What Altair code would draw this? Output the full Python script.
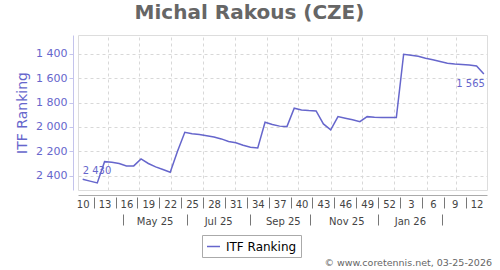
import altair as alt
import pandas as pd

TITLE = "Michal Rakous (CZE)"
SERIES = "ITF Ranking"
FOOTER = "\u00a9 www.coretennis.net, 03-25-2026"

# weekly ITF ranking, from week 10 of 2025 to week 13 of 2026
ranking = [2430, 2445, 2460, 2285, 2290, 2300, 2320, 2320, 2263, 2300,
           2328, 2350, 2372, 2200, 2044, 2055, 2062, 2072, 2082, 2098,
           2120, 2129, 2150, 2166, 2172, 1961, 1980, 1993, 1997, 1846,
           1860, 1865, 1868, 1975, 2024, 1915, 1928, 1940, 1956, 1915,
           1920, 1922, 1923, 1923, 1402, 1410, 1418, 1435, 1448, 1462,
           1476, 1482, 1486, 1490, 1499, 1565]
first_week_date = "2025-03-08"

y_ticks = [1400, 1600, 1800, 2000, 2200, 2400]
y_domain = [1244, 2518]
x_domain = ["2025-03-03T12:00", "2026-03-31T00:00"]
month_grid = ["2025-04-01", "2025-05-01", "2025-06-01", "2025-07-01",
              "2025-08-01", "2025-09-01", "2025-10-01", "2025-11-01",
              "2025-12-01", "2026-01-01", "2026-02-01", "2026-03-01"]
month_label_dates = ["2025-05-16", "2025-07-16", "2025-09-16",
                     "2025-11-16", "2026-01-16"]
month_sep_dates = ["2025-04-16", "2025-06-16", "2025-08-16",
                   "2025-10-12", "2025-12-16", "2026-02-16"]

LINE_COLOR = "#6666cc"
AXIS_BLUE = "#6666cc"
LAVENDER = "#c4c4ec"
GRID = "#d8d8d8"
FONT = "DejaVu Sans"


def ms(s):
    return int(pd.Timestamp(s, tz="UTC").value // 10**6)


dates = pd.date_range(first_week_date, periods=len(ranking), freq="7D", tz="UTC")
t_ms = [int(d.value // 10**6) for d in dates]
df = pd.DataFrame({"t": t_ms, "rank": ranking, "series": SERIES})

week_label_ms = t_ms[::3]
week_sep_ms = [(a + b) / 2 for a, b in zip(week_label_ms[:-1], week_label_ms[1:])]

W, H = 409, 155
xscale = alt.Scale(type="utc", domain=[ms(d) for d in x_domain], nice=False)
yscale = alt.Scale(domain=y_domain, reverse=True, nice=False, zero=False)


def X(axis):
    return alt.X("t:T", scale=xscale, axis=axis)


def Y(axis):
    return alt.Y("rank:Q", scale=yscale, axis=axis)


line = alt.Chart(df).mark_line(strokeWidth=1.5).encode(
    x=X(alt.Axis(orient="bottom", values=[ms(d) for d in month_grid], grid=True,
                 gridDash=[3, 3], gridColor=GRID, labels=False, ticks=False,
                 domain=False, title=None)),
    y=Y(alt.Axis(orient="left", values=y_ticks, grid=True, gridDash=[3, 3],
                 gridColor=GRID, labels=False, ticks=False, domain=False, title=None)),
    color=alt.Color("series:N", scale=alt.Scale(range=[LINE_COLOR]),
                    legend=alt.Legend(orient="none", legendX=124, legendY=200, title=None,
                                      symbolType="stroke", symbolStrokeWidth=1.5,
                                      symbolSize=169, strokeColor="#aaaaaa",
                                      fillColor="white", padding=4, cornerRadius=0,
                                      labelFontSize=12, labelColor="#000000",
                                      labelFont=FONT, labelOffset=5)),
)


def ghost(xaxis, yaxis=None):
    return alt.Chart(df).mark_point(opacity=0, size=1).encode(x=X(xaxis), y=Y(yaxis))


week_axis = ghost(
    alt.Axis(orient="bottom", values=week_label_ms,
             labelExpr="utcFormat(datum.value, '%-V')", offset=5,
             domain=True, domainColor="#aaaaaa", ticks=False, tickSize=0, labelPadding=4,
             labelFontSize=10, labelColor="#444444", labelFont=FONT, grid=False,
             title=None, labelOverlap=False, labelFlush=False),
    alt.Axis(orient="left", values=y_ticks,
             labelExpr="replace(format(datum.value, ','), ',', ' ')",
             offset=5, domain=True, domainColor=LAVENDER, ticks=True, tickSize=4,
             tickColor=LAVENDER, labelPadding=2, labelFontSize=11, labelColor=AXIS_BLUE,
             labelFont=FONT, grid=False, title=SERIES, titleFontSize=14,
             titleColor=AXIS_BLUE, titleFontWeight="normal", titleFont=FONT,
             titlePadding=6),
)

week_sep = ghost(alt.Axis(orient="bottom", values=week_sep_ms, offset=7, domain=False,
                          ticks=True, tickSize=11, tickColor="#777777", labels=False,
                          grid=False, title=None))

month_axis = ghost(alt.Axis(orient="bottom", values=[ms(d) for d in month_label_dates],
                            labelExpr="utcFormat(datum.value, '%b %y')", offset=26,
                            domain=False, ticks=False, tickSize=0, labelPadding=0,
                            labelFontSize=10, labelColor="#444444", labelFont=FONT,
                            grid=False, title=None, labelOverlap=False, labelFlush=False))

month_sep = ghost(alt.Axis(orient="bottom", values=[ms(d) for d in month_sep_dates],
                           offset=24, domain=False, ticks=True, tickSize=11,
                           tickColor="#777777", labels=False, grid=False, title=None))

label_calc = "replace(format(datum.rank, ','), ',', ' ')"
first_lbl = alt.Chart(df).transform_filter(f"datum.t == {t_ms[0]}").transform_calculate(
    lbl=label_calc).mark_text(align="left", baseline="alphabetic", dy=-5, fontSize=10,
                              color=AXIS_BLUE, font=FONT).encode(
    x=X(None), y=Y(None), text="lbl:N")
last_lbl = alt.Chart(df).transform_filter(f"datum.t == {t_ms[-1]}").transform_calculate(
    lbl=label_calc).mark_text(align="right", baseline="top", dx=1, dy=5, fontSize=10,
                              color=AXIS_BLUE, font=FONT).encode(
    x=X(None), y=Y(None), text="lbl:N")

footer = alt.Chart(pd.DataFrame({"txt": [FOOTER]})).mark_text(
    align="right", baseline="alphabetic", fontSize=9.5, color="#666666", font=FONT
).encode(x=alt.value(W + 5), y=alt.value(H + 76), text="txt:N")

chart = alt.layer(line, week_axis, week_sep, month_axis, month_sep, first_lbl, last_lbl,
                  footer).resolve_scale(x="shared", y="shared").resolve_axis(
    x="independent", y="independent").properties(
    width=W, height=H,
    title=alt.TitleParams(TITLE, fontSize=20, fontWeight="bold", color="#666666",
                          font=FONT, anchor="middle", frame="group", dx=-33, dy=19,
                          baseline="alphabetic", offset=15),
    padding={"left": 78, "top": 35, "right": 13, "bottom": 80},
    autosize=alt.AutoSizeParams(type="none"),
).configure_view(fill="#f9f9f9", stroke="#888888", strokeWidth=1.5).configure(
    font=FONT)

chart.save("out.html", embed_options={"renderer": "svg", "actions": False})
